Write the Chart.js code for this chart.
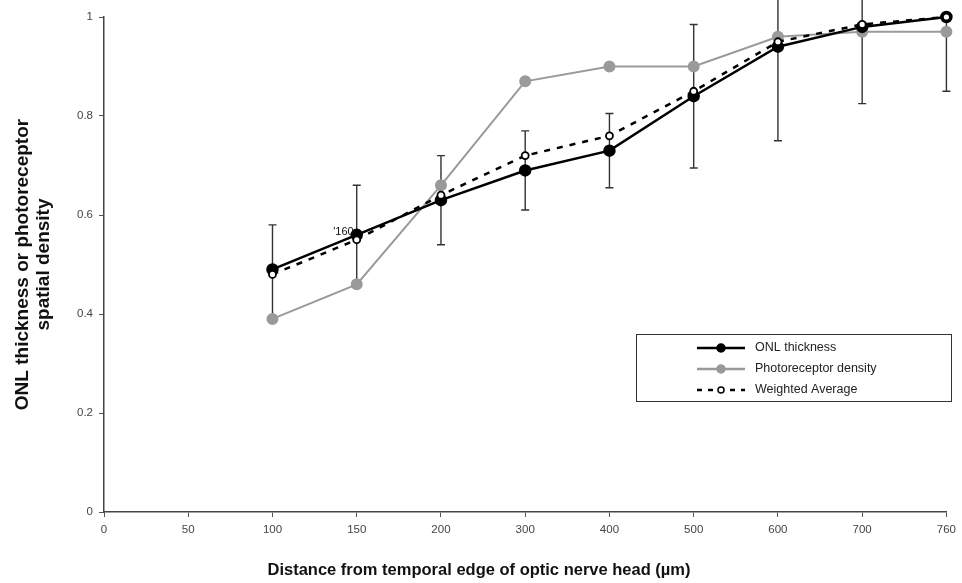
<!DOCTYPE html>
<html>
<head>
<meta charset="utf-8">
<script src="https://cdn.jsdelivr.net/npm/chart.js@4"></script>
<style>
  html, body { margin: 0; padding: 0; background: #fff; }
  #wrap { width: 962px; height: 583px; }
</style>
</head>
<body>
<div id="wrap"><canvas id="chart" width="962" height="583"></canvas></div>
<script>
// Distance categories (µm) — equally spaced on the axis like the original
const distances = ["0", "50", "100", "150", "200", "300", "400", "500", "600", "700", "760"];

const onlThickness = [null, null, 0.49, 0.56, 0.63, 0.69, 0.73, 0.84, 0.94, 0.98, 1.0];
const photoDensity = [null, null, 0.39, 0.46, 0.66, 0.87, 0.90, 0.90, 0.96, 0.97, 0.97];
const weightedAvg  = [null, null, 0.48, 0.55, 0.64, 0.72, 0.76, 0.85, 0.95, 0.985, 1.0];

// error bars on ONL thickness (up / down)
const onlErrPlus  = [null, null, 0.09, 0.10, 0.09, 0.08, 0.075, 0.145, 0.19, 0.155, 0];
const onlErrMinus = [null, null, 0.10, 0.10, 0.09, 0.08, 0.075, 0.145, 0.19, 0.155, 0.15];

const yTitle = ["ONL thickness or photoreceptor", "spatial density"];
const xTitle = "Distance from temporal edge of optic nerve head (\u00b5m)";
const legendItems = ["ONL thickness", "Photoreceptor density", "Weighted Average"];

const FONT = "'Liberation Sans', Arial, Helvetica, sans-serif";

const errorBars = {
  id: "errorBars",
  beforeDatasetsDraw(chart) {
    const { ctx, scales: { x, y } } = chart;
    ctx.save();
    ctx.strokeStyle = "#333";
    ctx.lineWidth = 1.4;
    onlThickness.forEach((v, i) => {
      if (v == null) return;
      const px = x.getPixelForValue(i);
      const top = y.getPixelForValue(v + onlErrPlus[i]);
      const bot = y.getPixelForValue(v - onlErrMinus[i]);
      ctx.beginPath();
      ctx.moveTo(px, top); ctx.lineTo(px, bot);
      if (onlErrPlus[i] > 0) { ctx.moveTo(px - 4, top); ctx.lineTo(px + 4, top); }
      if (onlErrMinus[i] > 0) { ctx.moveTo(px - 4, bot); ctx.lineTo(px + 4, bot); }
      ctx.stroke();
    });
    ctx.restore();
  },
  afterDraw(chart) {
    const { ctx, scales: { x, y } } = chart;
    ctx.save();
    // stray "160" label next to the 150 µm point
    ctx.font = "11px " + FONT;
    ctx.fillStyle = "#111";
    ctx.textAlign = "right";
    ctx.textBaseline = "middle";
    ctx.fillText("'160", x.getPixelForValue(3) - 3, y.getPixelForValue(onlThickness[3]) - 3);

    // x axis title, centred on the page
    ctx.font = "bold 16.5px " + FONT;
    ctx.textAlign = "center";
    ctx.fillStyle = "#111";
    ctx.fillText(xTitle, chart.width / 2 - 2, 570);

    // legend box
    const bx = 636, by = 334, bw = 315, bh = 67;
    ctx.fillStyle = "#fff";
    ctx.fillRect(bx, by, bw, bh);
    ctx.strokeStyle = "#333";
    ctx.lineWidth = 1;
    ctx.strokeRect(bx + 0.5, by + 0.5, bw, bh);
    const styles = [
      { color: "#000", dash: [], fill: "#000", r: 4 },
      { color: "#999", dash: [], fill: "#999", r: 4 },
      { color: "#000", dash: [5, 6], fill: "#fff", r: 3 },
    ];
    legendItems.forEach((label, i) => {
      const ly = by + 14 + i * 21;
      const s = styles[i];
      ctx.beginPath();
      ctx.setLineDash(s.dash);
      ctx.strokeStyle = s.color;
      ctx.lineWidth = 2.5;
      ctx.moveTo(697, ly); ctx.lineTo(745, ly);
      ctx.stroke();
      ctx.setLineDash([]);
      ctx.beginPath();
      ctx.arc(721, ly, s.r, 0, Math.PI * 2);
      ctx.fillStyle = s.fill;
      ctx.fill();
      ctx.lineWidth = 1.5;
      ctx.stroke();
      ctx.font = "12.5px " + FONT;
      ctx.fillStyle = "#222";
      ctx.textAlign = "left";
      ctx.fillText(label, 755, ly);
    });
    ctx.restore();
  },
};

new Chart(document.getElementById("chart"), {
  type: "line",
  data: {
    labels: distances,
    datasets: [
      {
        label: legendItems[2],
        data: weightedAvg,
        borderColor: "#000",
        borderWidth: 2.5,
        borderDash: [6, 7],
        pointRadius: 3.5,
        pointBackgroundColor: "#fff",
        pointBorderColor: "#000",
        pointBorderWidth: 1.8,
        clip: false,
        order: 0,
      },
      {
        label: legendItems[0],
        data: onlThickness,
        borderColor: "#000",
        borderWidth: 2.5,
        pointRadius: 5,
        pointBackgroundColor: "#000",
        pointBorderColor: "#000",
        clip: false,
        order: 1,
      },
      {
        label: legendItems[1],
        data: photoDensity,
        borderColor: "#9a9a9a",
        borderWidth: 2,
        pointRadius: 5,
        pointBackgroundColor: "#9a9a9a",
        pointBorderColor: "#9a9a9a",
        clip: false,
        order: 2,
      },
    ],
  },
  options: {
    responsive: false,
    animation: false,
    spanGaps: false,
    layout: { padding: { top: 17, right: 10, left: 0, bottom: 0 } },
    plugins: { legend: { display: false }, tooltip: { enabled: false } },
    scales: {
      x: {
        offset: false,
        grid: { display: true, drawOnChartArea: false, tickLength: 5, color: "#555" },
        border: { display: true, color: "#444", width: 1.5 },
        ticks: { color: "#444", font: { family: FONT, size: 11.5 }, padding: 6, maxRotation: 0, autoSkip: false },
        afterFit: (s) => { s.height = 71; },
      },
      y: {
        min: 0,
        max: 1,
        grid: { display: true, drawOnChartArea: false, tickLength: 5, color: "#555" },
        border: { display: true, color: "#444", width: 1.5 },
        ticks: {
          stepSize: 0.2,
          color: "#444",
          font: { family: FONT, size: 11.5 },
          padding: 6,
          callback: (v) => String(+v.toFixed(1)),
        },
        title: {
          display: true,
          text: yTitle,
          color: "#111",
          font: { family: FONT, size: 19, weight: "bold", lineHeight: 1.1 },
          padding: { top: 12, bottom: 0 },
        },
        afterFit: (s) => { s.width = 104; },
      },
    },
  },
  plugins: [errorBars],
});
</script>
</body>
</html>
